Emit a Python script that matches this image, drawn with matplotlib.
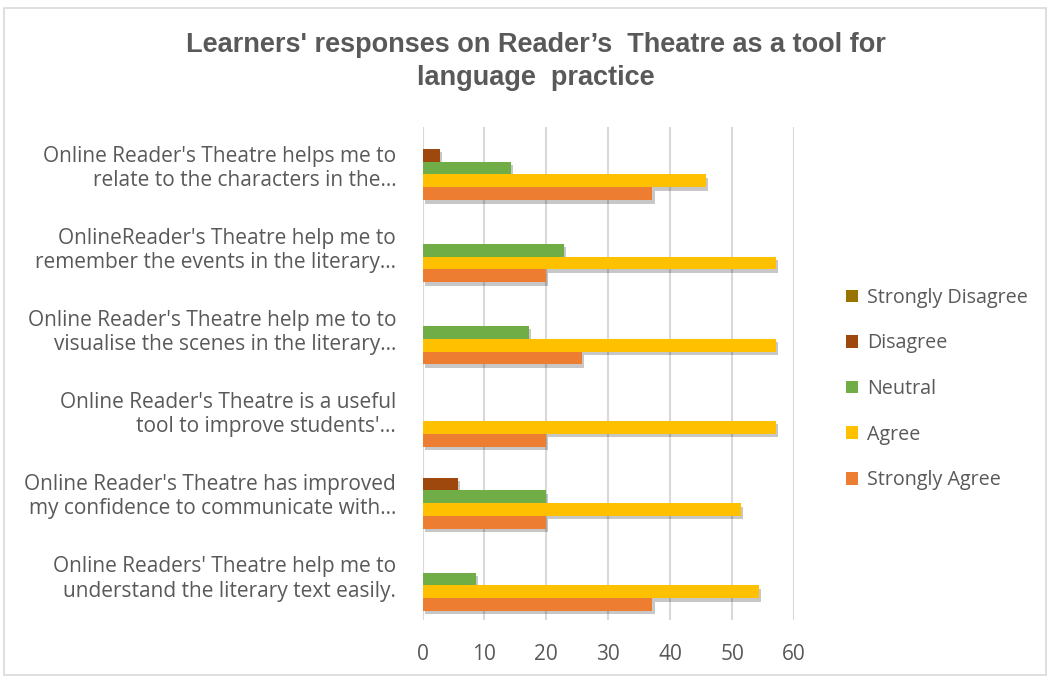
import numpy as np
import matplotlib.pyplot as plt
import matplotlib.patheffects as pe
import matplotlib.transforms as mtransforms
from matplotlib.patches import Rectangle, Patch

# categories, top to bottom as shown
statements = [
    "Online Reader's Theatre helps me to\nrelate to the characters in the\u2026",
    "OnlineReader's Theatre help me to\nremember the events in the literary\u2026",
    "Online Reader's Theatre help me to to\nvisualise the scenes in the literary\u2026",
    "Online Reader's Theatre is a useful\ntool to improve students'\u2026",
    "Online Reader's Theatre has improved\nmy confidence to communicate with\u2026",
    "Online Readers' Theatre help me to\nunderstand the literary text easily.",
]

strongly_agree = [37.14, 20.0, 25.71, 20.0, 20.0, 37.14]
agree = [45.71, 57.14, 57.14, 57.14, 51.43, 54.29]
neutral = [14.29, 22.86, 17.14, 0, 20.0, 8.57]
disagree = [2.86, 0, 0, 0, 5.71, 0]
strongly_disagree = [0, 0, 0, 0, 0, 0]

series = ['Strongly Agree', 'Agree', 'Neutral', 'Disagree', 'Strongly Disagree']
values = [strongly_agree, agree, neutral, disagree, strongly_disagree]
colors = ['#ED7D31', '#FFC000', '#70AD47', '#9E480E', '#997300']

txt = '#595959'
plt.rcParams['font.family'] = ['Open Sans', 'DejaVu Sans']

fig = plt.figure(figsize=(10.5, 6.79), dpi=100)
fig.patches.append(Rectangle((0.004, 0.006), 0.992, 0.982, transform=fig.transFigure,
                             fill=False, edgecolor='#D9D9D9', linewidth=1.2))
ax = fig.add_axes([0.4024, 0.0869, 0.3538, 0.7261])

y = np.arange(len(statements))
h = 0.156
shadow = [pe.SimplePatchShadow(offset=(1.5, -2.5), alpha=0.22, shadow_rgbFace='black'), pe.Normal()]
# draw top bar of each group first so the lower bar covers its shadow
for k in range(len(series) - 1, -1, -1):
    bars = ax.barh(y + (2 - k) * h, values[k], height=h, color=colors[k], zorder=3)
    for b in bars:
        if b.get_width() > 0:
            b.set_path_effects(shadow)

ax.set_xlim(0, 60)
ax.set_ylim(5.5, -0.5)
ax.set_xticks(np.arange(0, 61, 10))
ax.set_yticks(y)
ax.set_yticklabels(statements, fontsize=15, color=txt, linespacing=1.2)
ax.tick_params(axis='x', labelsize=15, labelcolor=txt, length=0, pad=17)
ax.tick_params(axis='y', length=0, pad=19)
ax.grid(axis='x', color='#D9D9D9', linewidth=1.5, zorder=0)
for s in ax.spines.values():
    s.set_visible(False)
up = mtransforms.ScaledTranslation(0, 4 / 100, fig.dpi_scale_trans)
for lab in ax.get_yticklabels():
    lab.set_transform(lab.get_transform() + up)

fig.text(0.51, 0.910, "Learners' responses on Reader\u2019s  Theatre as a tool for\nlanguage  practice",
         ha='center', va='center', fontsize=19.5, fontweight='bold', color=txt,
         family=['Liberation Sans Narrow', 'Liberation Sans', 'DejaVu Sans'], linespacing=1.35)

handles = [Patch(facecolor=c, label=s) for s, c in zip(series, colors)][::-1]
leg = fig.legend(handles=handles, loc='center left', bbox_to_anchor=(0.789, 0.427),
                 frameon=False, fontsize=14.2, handlelength=0.6, handleheight=0.6,
                 labelspacing=1.3, handletextpad=0.45)
for t in leg.get_texts():
    t.set_color(txt)

fig.savefig('out.png', dpi=100)
